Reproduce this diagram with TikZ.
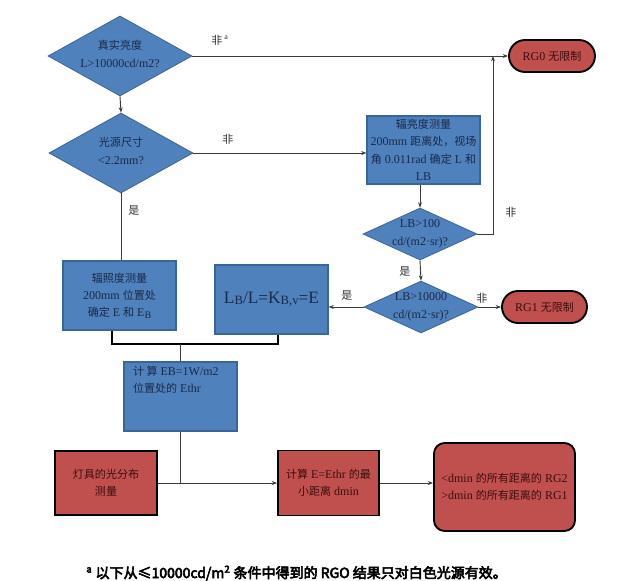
\documentclass[tikz,border=0pt]{standalone}
\usepackage{fontspec}
\setmainfont{Liberation Serif}
\newfontfamily\cjk[Scale=0.92]{Noto Sans CJK SC}
\newfontfamily\cjkfn[AutoFakeBold=4]{Noto Sans CJK SC}
\usetikzlibrary{shapes.geometric,arrows.meta}
\newcommand\zh[1]{{\cjk #1}}
\newcommand\tx[1]{\smash{\makebox[0pt]{\raisebox{-1.5pt}{\begin{tabular}{@{}c@{}}#1\end{tabular}}}}}
\newcommand\sbs[1]{\raisebox{-0.8pt}{\fontsize{7.5}{8}\selectfont #1}}
\newcommand\sbl[1]{\raisebox{-1pt}{\fontsize{9.5}{10}\selectfont #1}}
\definecolor{blueF}{HTML}{4F81BD}
\definecolor{blueD}{HTML}{3A6597}
\definecolor{redF}{HTML}{C0504D}
\definecolor{txtB}{HTML}{1A2A48}
\definecolor{txtR}{HTML}{3A0E0E}
\definecolor{lineC}{HTML}{3A3A3A}
\begin{document}
\begin{tikzpicture}[x=0.75pt,y=-0.75pt,
  every node/.style={font=\fontsize{9}{13}\selectfont},
  dia/.style={diamond, draw=blueD, fill=blueF, line width=0.6pt, inner sep=0pt,
    text=txtB, minimum width=#1, aspect=2},
  bluebox/.style={rectangle, draw=blueD, fill=blueF, line width=0.8pt, text=txtB,
    align=center, minimum width=84.75pt, minimum height=51.75pt, inner sep=1pt},
  redbox/.style={rectangle, draw=black, fill=redF, line width=1.4pt, text=txtR,
    align=center, inner sep=1pt},
  pill/.style={redbox, rounded corners=12pt, minimum height=24pt},
  lab/.style={text=black!80},
  conn/.style={draw=lineC, line width=0.7pt},
  arr/.style={conn, -{Stealth[length=4pt,width=3pt]}},
  bracket/.style={draw=black, line width=1.5pt}
]
\useasboundingbox (0,0) rectangle (640,581);
\fill[white] (0,0) rectangle (640,581);

% decision diamonds
\node[dia=108pt, minimum height=60pt] (d1) at (120,56)
  {\tx{\zh{真实亮度}\\L>10000cd/m2?}};
\node[dia=108pt, minimum height=60pt] (d2) at (121,153)
  {\tx{\zh{光源尺寸}\\<2.2mm?}};
\node[dia=85.5pt, minimum height=39pt] (d3) at (420,234)
  {\tx{LB>100\\cd/(m2·sr)?}};
\node[dia=85.5pt, minimum height=39pt] (d4) at (421,307)
  {\tx{LB>10000\\cd/(m2·sr)?}};

% terminals
\node[pill, minimum width=64.5pt] (rg0) at (552,56) {RG0 \zh{无限制}};
\node[pill, minimum width=63.75pt] (rg1) at (544.5,307) {RG1 \zh{无限制}};

% boxes
\node[bluebox, minimum height=51pt] (lbox) at (423.5,150)
  {\zh{辐亮度测量}\\200mm \zh{距离处，视场}\\\zh{角} 0.011rad \zh{确定} L \zh{和}\\LB};
\node[bluebox] (kbox) at (271.5,299.5)
  {\fontsize{13}{15}\selectfont L\sbl{B}/L=K\sbl{B,v}=E};
\node[bluebox] (ebox) at (119.5,295.5)
  {\zh{辐照度测量}\\200mm \zh{位置处}\\\zh{确定} E \zh{和} E\sbs{B}};
\node[bluebox, label={[anchor=north west, align=left, text=txtB, xshift=7pt, yshift=-3pt, inner sep=0pt,
    font=\fontsize{9}{13}\selectfont]north west:{\zh{计\ 算}\ EB=1W/m2\\\zh{位置处的} Ethr}}] (cbox) at (180.5,396.5) {};
\node[redbox, minimum width=76.5pt, minimum height=48pt] (lamp) at (106,483)
  {\zh{灯具的光分布}\\\zh{测量}};
\node[redbox, minimum width=75.75pt, minimum height=48.75pt] (dbox) at (328.5,483)
  {\zh{计算} E=Ethr \zh{的最}\\\zh{小距离} dmin};
\node[redbox, rounded corners=8pt, minimum width=105.75pt, minimum height=66pt, align=left] (fin) at (504.5,487)
  {<dmin \zh{的所有距离的} RG2\\>dmin \zh{的所有距离的} RG1};

% helper coordinates
\coordinate (j0) at (493,56);
\coordinate (b1) at (112,344);
\coordinate (b2) at (278,344);

% connectors
\draw[arr] (d1.south) -- (d2.north);
\draw[arr] (d1.east) -- (rg0.west);
\draw[arr] (d2.east) -- (d2.east -| lbox.west);
\draw[arr] (lbox.south -| d3.north) -- (d3.north);
\draw[arr] (d3.east) -- (d3.east -| j0) -- (j0);
\draw[arr] (d3.south) -- (d4.north);
\draw[arr] (d4.east) -- (rg1.west);
\draw[arr] (d4.west) -- (d4.west -| kbox.east);
\draw[conn] (d2.south) -- (d2.south |- ebox.north);
\draw[bracket] (b1 |- ebox.south) -- (b1) -- (b2) -- (b2 |- kbox.south);
\draw[conn] (cbox.north |- b1) -- (cbox.north);
\draw[conn] (cbox.south) -- (cbox.south |- lamp.east);
\draw[arr] (lamp.east) -- (dbox.west);
\draw[arr] (dbox.east) -- (dbox.east -| fin.west);

% labels
\node[lab] (l1) at (220,40) {\zh{非}\,\textsuperscript{a}};
\node[lab] (l2) at (228,139) {\zh{非}};
\node[lab] (l3) at (134,211) {\zh{是}};
\node[lab] (l4) at (511,212) {\zh{非}};
\node[lab] (l5) at (405,272) {\zh{是}};
\node[lab] (l6) at (482,298) {\zh{非}};
\node[lab] (l7) at (347,296) {\zh{是}};

% footnote
\node[anchor=base west, inner sep=0pt, font=\cjkfn\bfseries\fontsize{10.5}{12}\selectfont] (fn) at (86,578)
  {\textsuperscript{a}\ 以下从≤10000cd/m\textsuperscript{2} 条件中得到的 RGO 结果只对白色光源有效。};
\end{tikzpicture}
\end{document}
